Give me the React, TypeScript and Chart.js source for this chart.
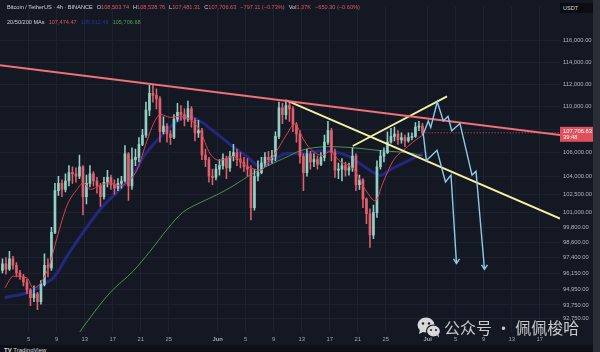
import React, { useEffect, useRef } from 'react';
import { Chart, registerables } from 'chart.js';

Chart.register(...registerables);

const FONT = '"Liberation Sans", Arial, sans-serif';
const BG = '#141823';
const GRID = '#1e2230';
const UP = '#93cfc4';
const DOWN = '#e0606b';

// ---- candles: 12h buckets starting 1 May (day 0) ----
const firstCandleDay = 0.25;
const candleStep = 0.5;
const firstOpen = 96400;
const closes = [
  96900, 96500, 97300, 96800, 96200, 95900, 95500, 94900, 94300, 94600,
  94000, 95300, 96800, 96600, 99400, 102800, 103400, 102900, 103600, 104300,
  104200, 104000, 104800, 102300, 103400, 104200, 103600, 103200, 102300, 103500,
  103900, 103300, 103000, 103400, 103600, 105900, 103200, 105400, 105600, 106700,
  107500, 109700, 111200, 111000, 110700, 107800, 108300, 107600, 107300, 108900,
  109500, 109300, 108900, 109800, 108800, 107700, 107900, 105800, 105400, 104000,
  103900, 104600, 104900, 105500, 104700, 105700, 106000, 105400, 105200, 104800,
  104600, 101400, 104000, 104300, 105100, 105600, 105400, 105700, 107400, 109900,
  109300, 110100, 109800, 108400, 107600, 105700, 104300, 105900, 105200, 105400,
  105000, 105600, 106900, 107900, 106000, 104500, 104600, 104900, 104500, 104700,
  105700, 103300, 103700, 102100, 100900, 99200, 101000, 104800, 105700, 106000,
  106900, 107400, 107600, 107100, 107300, 107000, 107300, 107400, 108200, 108300,
  107706.63,
];
const highs = [
  97300, 97400, 97900, 97500, 97000, 96400, 96100, 95700, 95000, 95200,
  94700, 95600, 97700, 97300, 99800, 103400, 104000, 103700, 104200, 104900,
  104800, 104700, 105800, 104900, 104100, 104900, 104400, 103900, 103400, 103900,
  104500, 104100, 103700, 103800, 104000, 106600, 106000, 106400, 106300, 107300,
  108000, 110400, 111900, 111900, 111600, 110900, 109100, 108500, 107900, 109300,
  110300, 110100, 109800, 110500, 110000, 109000, 108800, 108100, 106300, 105600,
  104600, 105000, 105400, 105900, 105700, 106100, 106700, 106300, 106000, 105600,
  105500, 104900, 104600, 105300, 105600, 106000, 106100, 106200, 107800, 110400,
  110300, 110600, 110400, 110000, 108600, 107900, 105900, 106300, 106100, 105900,
  105700, 106000, 107500, 108700, 108100, 106300, 105100, 105500, 105200, 105100,
  106400, 105900, 104100, 103800, 102200, 101300, 101600, 105300, 106200, 106400,
  107800, 108100, 108200, 107900, 107700, 107500, 107700, 107700, 108600, 108700,
  108540,
];
const lows = [
  96200, 96100, 96400, 96500, 95900, 95700, 95200, 94600, 93700, 94000,
  93400, 93800, 95200, 95900, 96400, 99300, 102400, 102300, 102700, 103200,
  103400, 103500, 103800, 100800, 101700, 103100, 103200, 102600, 101500, 102100,
  103100, 102900, 102500, 102800, 103000, 103500, 102000, 102900, 104900, 105200,
  106600, 107300, 109200, 110400, 109800, 106900, 107600, 106900, 106700, 107200,
  108700, 108800, 108300, 108700, 108200, 107000, 107300, 105400, 104800, 103500,
  103300, 103700, 104100, 104600, 103800, 104400, 105300, 104900, 104700, 104400,
  104000, 100400, 101200, 103600, 104200, 104800, 104900, 105100, 105300, 107200,
  108500, 108900, 108700, 107800, 106900, 105100, 102800, 104000, 104600, 104800,
  104600, 104900, 105300, 106700, 105300, 103900, 103800, 103600, 104000, 104100,
  104400, 102800, 102900, 101400, 100100, 98200, 98900, 100600, 104600, 105200,
  105900, 106800, 107000, 106700, 106800, 106500, 106900, 107100, 107300, 107900,
  107480,
];

// ---- moving averages [day, price] ----
const ma20 = [
  [0.6, 95050], [1.8, 95950], [3.8, 95800], [4.6, 95050], [5.6, 95350], [7.0, 96870],
  [8.0, 98880], [9.5, 101610], [10.9, 102900], [11.8, 103440], [12.8, 102900], [14.2, 103230],
  [15.6, 103440], [17.0, 103200], [18.1, 103500], [19.5, 104570], [20.9, 107020], [21.8, 108460],
  [22.8, 109320], [24.2, 109060], [25.6, 109150], [27.0, 108890], [28.5, 107860], [29.9, 105920],
  [31.3, 105340], [33.2, 105670], [35.2, 104840], [37.0, 104510], [38.9, 105670], [40.9, 107610],
  [42.0, 108500], [43.2, 107200], [44.2, 106340], [46.0, 105760], [47.0, 106090], [48.5, 105250],
  [50.3, 104670], [52.3, 102700], [53.5, 101960], [54.6, 103440], [56.0, 105250], [57.8, 106340],
  [59.9, 107350], [60.25, 107474.47],
];
const ma50 = [
  [0.6, 94300], [4.6, 94820], [6.3, 95420], [7.5, 95800], [9.9, 97870], [14.2, 101250],
  [17.0, 102900], [18.9, 104090], [20.6, 105800], [22.8, 107350], [25.2, 108720], [26.6, 109150],
  [28.5, 108720], [30.9, 107610], [33.2, 106510], [35.2, 105670], [37.0, 104840], [38.9, 105340],
  [40.9, 105920], [42.8, 105920], [46.0, 106170], [49.5, 105750], [52.3, 104670], [54.2, 104090],
  [56.0, 104670], [58.9, 105500], [60.25, 105912.48],
];
const ma200 = [
  [10.5, 91100], [11.3, 91730], [12.5, 92600], [15.6, 94670], [18.9, 96330], [21.3, 97870],
  [23.8, 99660], [26.0, 101010], [28.5, 101810], [30.9, 102460], [33.2, 103190], [35.6, 104090],
  [38.9, 105090], [41.3, 105750], [42.8, 106170], [47.0, 106510], [50.3, 106420], [54.2, 106170],
  [58.9, 105920], [60.25, 105706.68],
];

// ---- drawings [day, price] ----
const trendRed = [[-0.1, 113730], [79.9, 107522]];
const trendYellowDown = [[40.9, 110539], [79.9, 100510]];
const trendYellowUp = [[50.29, 106567], [63.76, 110915]];
const pathUpper = [
  [60.37, 107607], [61.09, 108745], [61.43, 108179], [62.37, 110426], [63.23, 108745],
  [63.9, 109150], [64.43, 107888], [65.61, 108522], [67.33, 104094], [67.9, 104423], [69.11, 96486],
];
const pathLower = [
  [60.37, 107607], [60.81, 105335], [62.33, 106197], [63.54, 103520], [64.33, 104094], [65.11, 96945],
];
const headLower = [[64.69, 97291], [65.11, 96945], [65.54, 97291]];
const headUpper = [[68.69, 96830], [69.11, 96486], [69.54, 96830]];

// ---- axes ----
const xMin = -0.1;
const xMax = 79.9;
const yMin = 91727;
const yMax = 119254;
const xTickDays = [4, 8, 12, 16, 20, 24, 31, 35, 39, 43, 47, 51, 55, 61, 65, 69, 73, 77];
const xTickLabels = ['5', '9', '13', '17', '21', '25', 'Jun', '5', '9', '13', '17', '21', '25', 'Jul', '5', '9', '13', '17'];
const yTickValues = [116000, 114000, 112000, 110000, 108000, 106000, 104000, 102500, 101000, 99800, 98600, 97400, 96150, 94950, 93750, 92750];

const lastPrice = closes[closes.length - 1];
const countdown = '39:48';

const headerLine1 = [
  { label: '', value: 'Bitcoin / TetherUS · 4h · BINANCE', lc: '#d1d4dc' },
  { label: 'O', value: '108,503.74' },
  { label: 'H', value: '108,538.76' },
  { label: 'L', value: '107,481.31' },
  { label: 'C', value: '107,706.63' },
  { label: '', value: '−797.11 (−0.73%)' },
  { label: 'Vol', value: '1.37K' },
  { label: '', value: '−650.30 (−0.60%)' },
];
const maLegend = [
  { value: '107,474.47', color: '#e2545f' },
  { value: '105,912.48', color: '#2a2f9e' },
  { value: '105,706.68', color: '#4ea356' },
];

const fmt = (v: number) =>
  Number(v).toLocaleString('en-US', { minimumFractionDigits: 2, maximumFractionDigits: 2 });

const priceTagPlugin = {
  id: 'priceTag',
  afterDraw(chart: any) {
    const y = chart.scales.y.getPixelForValue(lastPrice);
    const left = chart.chartArea.right;
    const ctx = chart.ctx;
    ctx.save();
    ctx.fillStyle = '#e0505b';
    ctx.fillRect(left, y - 6, 33, 15);
    ctx.fillStyle = '#ffffff';
    ctx.font = `5.8px ${FONT}`;
    ctx.textBaseline = 'middle';
    ctx.textAlign = 'left';
    ctx.fillText(fmt(lastPrice), left + 3, y - 1.6);
    ctx.fillText(countdown, left + 3, y + 4.8);
    ctx.restore();
  },
};

export default function App() {
  const ref = useRef<HTMLCanvasElement>(null);

  useEffect(() => {
    const canvas = ref.current;
    if (!canvas) return;
    const opens = closes.map((c, i) => (i === 0 ? firstOpen : closes[i - 1]));
    const days = closes.map((_, i) => firstCandleDay + i * candleStep);
    const candleColor = (c: any) => (closes[c.dataIndex] >= opens[c.dataIndex] ? UP : DOWN);
    const pts = (arr: number[][]) => arr.map(([x, y]) => ({ x, y }));
    const lineDs = (data: number[][], color: string, width: number, order: number, extra: any = {}) => ({
      type: 'line',
      data: pts(data),
      borderColor: color,
      borderWidth: width,
      pointRadius: 0,
      pointHoverRadius: 0,
      fill: false,
      order,
      ...extra,
    });
    const priceLine = [[days[days.length - 1], lastPrice], [xMax, lastPrice]];

    const chart = new Chart(canvas, {
      type: 'bar',
      data: {
        datasets: [
          lineDs(ma50, '#24277f', 3, 10, { cubicInterpolationMode: 'monotone' }),
          lineDs(ma200, '#4f8f54', 1, 9, { cubicInterpolationMode: 'monotone' }),
          {
            type: 'bar',
            data: days.map((d, i) => ({ x: d, y: [lows[i], highs[i]] })),
            backgroundColor: candleColor,
            barThickness: 0.9,
            grouped: false,
            order: 8,
          },
          {
            type: 'bar',
            data: days.map((d, i) => ({ x: d, y: [opens[i], closes[i]] })),
            backgroundColor: candleColor,
            barThickness: 2,
            minBarLength: 1,
            grouped: false,
            order: 7,
          },
          lineDs(ma20, '#d9434e', 1, 6, { cubicInterpolationMode: 'monotone' }),
          lineDs(priceLine, 'rgba(224,80,91,0.7)', 1, 5, { borderDash: [1.5, 1.5] }),
          lineDs(trendRed, '#ee7079', 2, 3),
          lineDs(trendYellowDown, '#f6f1a4', 1.8, 3),
          lineDs(trendYellowUp, '#f6f1a4', 1.8, 3),
          lineDs(pathUpper, '#8ccbe8', 1.4, 2),
          lineDs(pathLower, '#8ccbe8', 1.4, 2),
          lineDs(headUpper, '#8ccbe8', 1.4, 2),
          lineDs(headLower, '#8ccbe8', 1.4, 2),
        ] as any,
      },
      options: {
        animation: false,
        responsive: false,
        events: [],
        layout: { padding: 0 },
        plugins: { legend: { display: false }, tooltip: { enabled: false } },
        scales: {
          x: {
            type: 'linear',
            min: xMin,
            max: xMax,
            offset: false,
            afterFit: (s: any) => { s.height = 20; },
            afterBuildTicks: (s: any) => { s.ticks = xTickDays.map((v) => ({ value: v })); },
            grid: { color: GRID, drawTicks: false, offset: false },
            border: { display: false },
            ticks: {
              autoSkip: false,
              maxRotation: 0,
              padding: 4,
              color: '#a3a6af',
              font: (c: any) => {
                const i = xTickDays.indexOf(c.tick ? c.tick.value : -1);
                const lab = i >= 0 ? xTickLabels[i] : '';
                return { family: FONT, size: 5.8, weight: lab === 'Jun' || lab === 'Jul' ? 'bold' : 'normal' };
              },
              callback: (v: any) => {
                const i = xTickDays.indexOf(Number(v));
                return i >= 0 ? xTickLabels[i] : '';
              },
            },
          },
          y: {
            type: 'logarithmic',
            position: 'right',
            min: yMin,
            max: yMax,
            beginAtZero: false,
            afterFit: (s: any) => { s.width = 40; },
            afterBuildTicks: (s: any) => { s.ticks = yTickValues.map((v) => ({ value: v })); },
            grid: { color: GRID, drawTicks: false },
            border: { display: false },
            ticks: {
              autoSkip: false,
              padding: 3,
              color: '#b2b5be',
              font: { family: FONT, size: 5.8 },
              callback: (v: any) => fmt(Number(v)),
            },
          },
        },
      } as any,
      plugins: [priceTagPlugin],
    });
    return () => chart.destroy();
  }, []);

  const small: React.CSSProperties = { fontFamily: FONT, fontSize: 5.6, lineHeight: '7px', whiteSpace: 'nowrap' };

  return (
    <div style={{ position: 'fixed', left: 0, top: 0, width: 600, height: 352, background: BG, overflow: 'hidden' }}>
      <canvas ref={ref} width={600} height={352} style={{ position: 'absolute', left: 0, top: 0, width: 600, height: 352 }} />
      <div style={{ ...small, position: 'absolute', left: 7, top: 3.5, color: '#d1d4dc' }}>
        {headerLine1.map((h, i) => (
          <span key={i} style={{ marginRight: 4 }}>
            {h.label && <span style={{ color: '#d1d4dc' }}>{h.label}</span>}
            <span style={{ color: h.lc || '#e2545f' }}>{h.value}</span>
          </span>
        ))}
      </div>
      <div style={{ ...small, position: 'absolute', left: 7, top: 18.5, color: '#d1d4dc' }}>
        <span style={{ marginRight: 4 }}>20/50/200 MAs</span>
        {maLegend.map((m, i) => (
          <span key={i} style={{ marginRight: 4, color: m.color }}>{m.value}</span>
        ))}
      </div>
      <div style={{ ...small, position: 'absolute', left: 560, top: 3, width: 33, height: 10, background: '#0b0d13', color: '#d1d4dc', lineHeight: '10px', paddingLeft: 3, boxSizing: 'border-box' }}>USDT</div>
      <div style={{ position: 'absolute', left: 593, top: 0, width: 7, height: 352, background: '#2a2d35' }} />
      <div style={{ position: 'absolute', left: 0, top: 345, width: 593, height: 7, background: '#0e1016' }}>
        <span style={{ position: 'absolute', left: 4, top: 2, fontFamily: FONT, fontSize: 6, fontWeight: 'bold', color: '#d1d4dc', whiteSpace: 'nowrap', lineHeight: '7px' }}>
          TV <span style={{ fontWeight: 'normal' }}>TradingView</span>
        </span>
      </div>
      <svg width="24" height="21" viewBox="0 0 24 21" style={{ position: 'absolute', left: 417, top: 317 }}>
        <ellipse cx="9" cy="8" rx="8.5" ry="7.5" fill="#d8d8d8" />
        <path d="M3 12.5 L2 17 L7 14.5 Z" fill="#d8d8d8" />
        <circle cx="6" cy="6.5" r="1.2" fill={BG} />
        <circle cx="12" cy="6.5" r="1.2" fill={BG} />
        <ellipse cx="16.5" cy="14" rx="7" ry="6" fill="#d8d8d8" stroke={BG} strokeWidth="1.2" />
        <path d="M20 18.5 L22 20.5 L21.5 17 Z" fill="#d8d8d8" />
        <circle cx="14" cy="13" r="1" fill={BG} />
        <circle cx="19" cy="13" r="1" fill={BG} />
      </svg>
      <div style={{ position: 'absolute', left: 444, top: 317, fontFamily: '"Noto Sans CJK SC", sans-serif', fontSize: 16, lineHeight: '20px', color: 'rgba(222,222,222,0.9)', whiteSpace: 'nowrap' }}>
        公众号 · 佩佩梭哈
      </div>
    </div>
  );
}
